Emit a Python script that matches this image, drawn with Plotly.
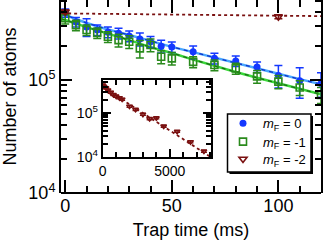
import plotly.graph_objects as go

# ---------------- data ----------------
t_main = [0, 5, 10, 15, 20, 25, 30, 35, 40, 45, 50, 60, 70, 80, 90, 100, 110, 120]

n_mf0 = [3.93e5, 3.27e5, 2.96e5, 2.78e5, 2.66e5, 2.60e5, 2.46e5, 2.31e5, 2.19e5,
         2.00e5, 1.97e5, 1.78e5, 1.56e5, 1.48e5, 1.31e5, 1.10e5, 9.9e4, 9.35e4]
err_mf0 = [3.3e4, 3.1e4, 5.3e4, 3.0e4, 2.9e4, 2.8e4, 2.7e4, 3.0e4, 2.4e4,
           2.6e4, 2.1e4, 2.3e4, 1.7e4, 1.6e4, 1.4e4, 2.5e4, 3.0e4, 2.3e4]

n_mf1 = [3.53e5, 3.07e5, 2.78e5, 2.62e5, 2.42e5, 2.26e5, 2.19e5, 1.91e5, 2.05e5,
         1.61e5, 1.56e5, 1.45e5, 1.36e5, 1.27e5, 1.08e5, 9.7e4, 8.6e4, 7.4e4]
err_mf1 = [3.8e4, 3.3e4, 3.0e4, 2.8e4, 2.6e4, 2.9e4, 2.8e4, 3.4e4, 2.7e4,
           2.1e4, 2.0e4, 1.6e4, 1.5e4, 1.4e4, 1.4e4, 1.3e4, 1.3e4, 1.2e4]

t_mf2 = [0, 100]
n_mf2 = [4.04e5, 3.65e5]
err_mf2 = [1.5e4, 1.5e4]

fit_t = [-2, 0, 10, 20, 30, 40, 50, 60, 70, 80, 90, 100, 110, 120]
fit_mf0 = [3.85e5, 3.78e5, 3.21e5, 2.81e5, 2.51e5, 2.22e5, 1.97e5, 1.77e5,
           1.58e5, 1.42e5, 1.27e5, 1.14e5, 1.02e5, 9.2e4]
fit_mf1 = [3.48e5, 3.41e5, 2.95e5, 2.59e5, 2.26e5, 1.96e5, 1.74e5, 1.52e5,
           1.33e5, 1.18e5, 1.05e5, 9.4e4, 8.4e4, 7.5e4]

fit_mf2_t = [-100, 8100]
fit_mf2 = [4.08e5, 9.8e3]

t_inset = [0, 100, 250, 400, 600, 800, 1000, 1250, 1450, 2000, 2450, 3000,
           3500, 4000, 4550, 5550, 6550, 7550]
n_inset = [4.3e5, 4.0e5, 3.7e5, 3.3e5, 2.95e5, 2.6e5, 2.4e5, 2.2e5, 2.05e5,
           1.42e5, 1.2e5, 9.3e4, 7.4e4, 7.7e4, 5.0e4, 3.8e4, 2.2e4, 1.35e4]
err_inset = [2.0e4, 1.9e4, 1.8e4, 1.6e4, 1.4e4, 1.3e4, 1.2e4, 1.1e4, 1.0e4,
             7.0e3, 6.0e3, 4.6e3, 3.7e3, 3.8e3, 2.5e3, 1.9e3, 1.1e3, 7.0e2]

x_major = [0, 50, 100]
x_minor = [10, 20, 30, 40, 60, 70, 80, 90, 110]
y_major = [1e4, 1e5]
y_major_text = ["10<sup>4</sup>", "10<sup>5</sup>"]
y_minor = [2e4, 3e4, 4e4, 5e4, 6e4, 7e4, 8e4, 9e4, 2e5, 3e5, 4e5, 5e5]
xi_major = [0, 5000]
xi_minor = [1000, 2000, 3000, 4000, 6000, 7000, 8000]

labels = ["<i>m</i><sub>F</sub> = 0", "<i>m</i><sub>F</sub> = -1", "<i>m</i><sub>F</sub> = -2"]

BLUE = "#1438ff"
LBLUE = "#4aa8ff"
GREEN = "#2a8a1c"
LGREEN = "#3ad83a"
RED = "#7a1010"
FONT = "Liberation Sans, Arial, sans-serif"

fig = go.Figure()

# fit lines (main)
fig.add_trace(go.Scatter(x=fit_t, y=fit_mf0, mode="lines", line=dict(color=LBLUE, width=2.5),
                         showlegend=False, hoverinfo="skip"))
fig.add_trace(go.Scatter(x=fit_t, y=fit_mf0, mode="lines", line=dict(color="#1030c8", width=1.3, dash="4px,4px"),
                         showlegend=False, hoverinfo="skip"))
fig.add_trace(go.Scatter(x=fit_t, y=fit_mf1, mode="lines", line=dict(color=LGREEN, width=2.5),
                         showlegend=False, hoverinfo="skip"))
fig.add_trace(go.Scatter(x=fit_t, y=fit_mf1, mode="lines", line=dict(color="#1a6a14", width=1.3, dash="4px,4px"),
                         showlegend=False, hoverinfo="skip"))
fig.add_trace(go.Scatter(x=fit_mf2_t, y=fit_mf2, mode="lines", line=dict(color=RED, width=1.8, dash="dot"),
                         showlegend=False, hoverinfo="skip"))

# data (main)
fig.add_trace(go.Scatter(x=t_main, y=n_mf0, mode="markers", name=labels[0], legend="legend",
                         marker=dict(symbol="circle", size=7, color=BLUE),
                         error_y=dict(type="data", array=err_mf0, color=BLUE, thickness=1.5, width=4)))
fig.add_trace(go.Scatter(x=t_main, y=n_mf1, mode="markers", name=labels[1], legend="legend2",
                         marker=dict(symbol="square-open", size=7, color=GREEN, line=dict(width=1.6)),
                         error_y=dict(type="data", array=err_mf1, color=GREEN, thickness=1.5, width=4)))
fig.add_trace(go.Scatter(x=t_mf2, y=n_mf2, mode="markers", name=labels[2], legend="legend3",
                         marker=dict(symbol="triangle-down-open", size=7, color=RED, line=dict(width=1.6)),
                         error_y=dict(type="data", array=err_mf2, color=RED, thickness=1.5, width=4)))

# inset
fig.add_trace(go.Scatter(x=fit_mf2_t, y=fit_mf2, mode="lines", xaxis="x2", yaxis="y2",
                         line=dict(color=RED, width=1.8, dash="dot"), showlegend=False, hoverinfo="skip"))
fig.add_trace(go.Scatter(x=t_inset, y=n_inset, mode="markers", xaxis="x2", yaxis="y2",
                         marker=dict(symbol="triangle-down-open", size=5, color=RED, line=dict(width=1.3)),
                         error_y=dict(type="data", array=err_inset, color=RED, thickness=1.3, width=3),
                         showlegend=False))

W, H = 327, 244
ML, MR, MT, MB = 61, 6, 0, 51
PW, PH = W - ML - MR, H - MT - MB


def px_x(p):
    return (p - ML) / PW


def px_y(p):
    return (H - MB - p) / PH


tick_common = dict(ticks="inside", tickcolor="black", tickwidth=1.5, showgrid=False,
                   zeroline=False, automargin=False)


def leg(row_center):
    return dict(x=px_x(223), y=px_y(row_center), xanchor="left", yanchor="middle",
                bgcolor="rgba(0,0,0,0)", borderwidth=0, font=dict(size=13, family=FONT),
                itemwidth=30)


fig.update_layout(
    template="plotly",
    width=W, height=H,
    margin=dict(l=ML, r=MR, t=MT, b=MB, pad=0, autoexpand=False),
    paper_bgcolor="white", plot_bgcolor="white",
    font=dict(family=FONT, color="black"),
    xaxis=dict(domain=[0, 1], range=[-2, 120], showline=False, mirror="ticks",
               tickmode="array", tickvals=x_major, ticklen=13,
               minor=dict(tickvals=x_minor, ticklen=7, ticks="inside", tickcolor="black", tickwidth=1.5),
               tickfont=dict(size=18),
               title=dict(text="Trap time (ms)", font=dict(size=18), standoff=8),
               **tick_common),
    yaxis=dict(domain=[0, 1], type="log", range=[4, 5.71], showline=True, linewidth=2, linecolor="black",
               mirror="ticks", tickmode="array", tickvals=y_major, ticktext=y_major_text, ticklen=11,
               minor=dict(tickvals=y_minor, ticklen=6, ticks="inside", tickcolor="black", tickwidth=1.5),
               tickfont=dict(size=18),
               title=dict(text="Number of atoms", font=dict(size=18), standoff=10),
               **tick_common),
    xaxis2=dict(domain=[px_x(102.7), px_x(211.3)], anchor="y2", range=[0, 8100],
                showline=True, linewidth=2, linecolor="black", mirror="ticks",
                tickmode="array", tickvals=xi_major, ticklen=8,
                minor=dict(tickvals=xi_minor, ticklen=5, ticks="inside", tickcolor="black", tickwidth=1.5),
                tickfont=dict(size=14), **tick_common),
    yaxis2=dict(domain=[px_y(157), px_y(80)], anchor="x2", type="log", range=[4, 5.75],
                showline=True, linewidth=2, linecolor="black", mirror="ticks",
                tickmode="array", tickvals=y_major, ticktext=y_major_text, ticklen=8,
                minor=dict(tickvals=y_minor, ticklen=5, ticks="inside", tickcolor="black", tickwidth=1.5),
                tickfont=dict(size=14), **tick_common),
    legend=leg(123.3),
    legend2=leg(141.7),
    legend3=leg(159.0),
    showlegend=True,
    shapes=[
        dict(type="line", xref="paper", yref="paper", x0=0, x1=1, y0=0, y1=0,
             line=dict(color="black", width=2), layer="above"),
        dict(type="rect", xref="paper", yref="paper", x0=px_x(229.5), x1=px_x(313),
             y0=px_y(174), y1=px_y(116), fillcolor="black", line=dict(width=0), layer="above"),
        dict(type="rect", xref="paper", yref="paper", x0=px_x(227.5), x1=px_x(311),
             y0=px_y(172), y1=px_y(114), fillcolor="white", line=dict(color="black", width=1.5),
             layer="above"),
    ],
)

fig.write_html(
    "out.html",
    config={"displayModeBar": False},
    post_script="document.body.style.margin='0';document.body.style.padding='0';"
                "document.body.style.overflow='hidden';",
)
